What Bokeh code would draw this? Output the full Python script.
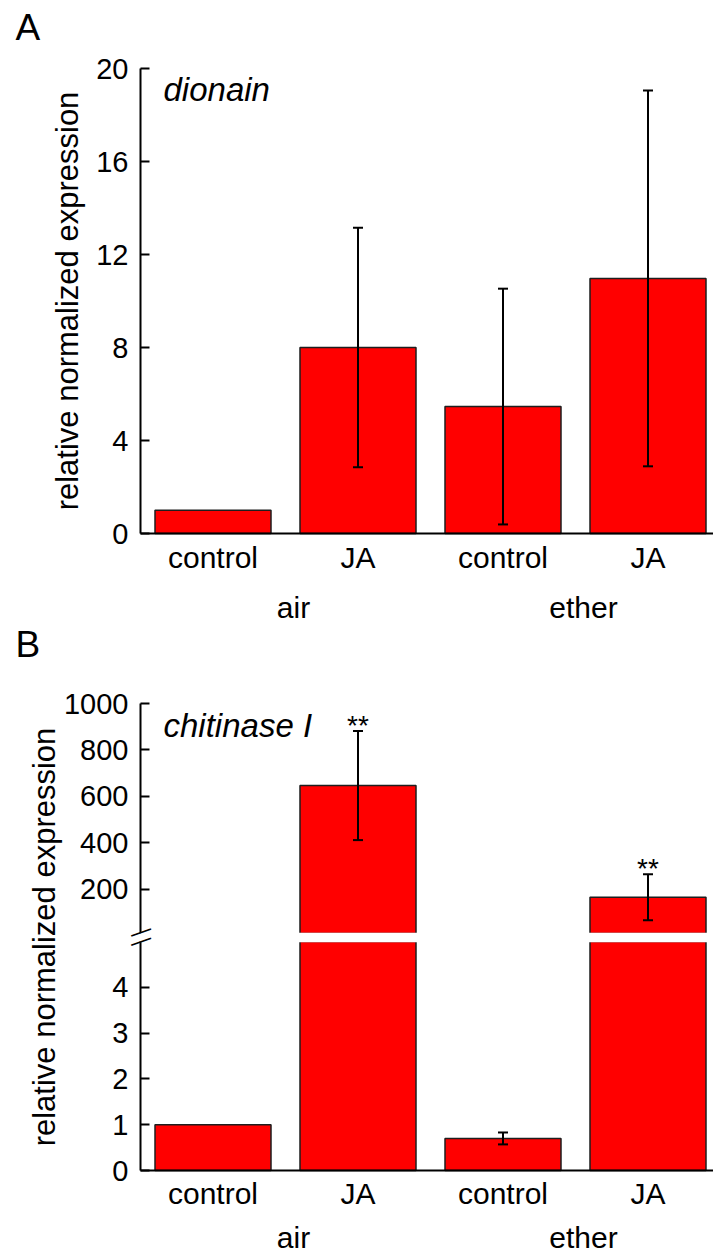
import numpy as np
from bokeh.plotting import figure
from bokeh.models import (Range1d, LinearAxis, FixedTicker, ColumnDataSource,
                          Whisker, TeeHead, Label, BoxAnnotation)
from bokeh.layouts import column
from bokeh.embed import file_html
from bokeh.resources import INLINE
from bokeh.core.properties import value

# ---------------- data ----------------
treatments = ["control", "JA", "control", "JA"]
atmospheres = ["air", "air", "ether", "ether"]
groups = ["air", "ether"]

dionain_mean = [1.0, 8.0, 5.46, 10.97]
dionain_err = [0.0, 5.15, 5.07, 8.08]

chitinase_mean = [1.0, 647.0, 0.70, 166.0]
chitinase_err = [0.0, 235.0, 0.13, 99.0]
chitinase_sig = ["", "**", "", "**"]

a_yticks = [0, 4, 8, 12, 16, 20]
b_lower_ticks = [0, 1, 2, 3, 4]
b_upper_ticks = [200, 400, 600, 800, 1000]

ylabel = "relative normalized expression"

# ---------------- style / layout constants ----------------
FONT = "Liberation Sans"
RED = "#ff0000"
EDGE = "#1e1e1e"
W = 713
HA = 624
HB = 630
X0_PX = 140          # pixel position of the value axis
STEP = 145.0         # pixel step between bars
BAR_W = 0.8
BSHIFT = 11          # text baseline correction (px)
GROUP_SHIFT_PX = 8   # group labels sit slightly right of the pair centre

A_MAX = 20
A_TOP_PX, A_ZERO_PX = 68, 533

LOWER_MAX = 5.0
UPPER_MIN = 10.0
UPPER_MAX = 1000.0
B_UP_TOP, B_UP_BOT = 703 - HA, 933 - HA
B_LO_TOP, B_ZERO = 941 - HA, 1170 - HA
GAP_PX = B_LO_TOP - B_UP_BOT

xpos = np.arange(len(treatments)) + 0.5
group_pos = [float(np.mean([x for x, a in zip(xpos, atmospheres) if a == g])) + GROUP_SHIFT_PX / STEP
             for g in groups]


def x_range():
    return Range1d(-X0_PX / STEP, (W - X0_PX) / STEP)


def base_fig(height, yr):
    p = figure(width=W, height=height, x_range=x_range(), y_range=yr, title=None,
               output_backend="svg", toolbar_location=None,
               x_axis_location=None, y_axis_location=None,
               min_border_left=0, min_border_right=0,
               min_border_top=0, min_border_bottom=0)
    p.outline_line_color = None
    p.grid.visible = False
    p.background_fill_color = "white"
    p.border_fill_color = "white"
    return p


def style_label(ax, standoff):
    ax.axis_label_text_font = FONT
    ax.axis_label_text_font_size = "31px"
    ax.axis_label_text_font_style = "normal"
    ax.axis_label_text_color = "black"
    ax.axis_label_standoff = standoff


def make_yaxis(ticks, **kw):
    ax = LinearAxis(ticker=FixedTicker(ticks=ticks), fixed_location=0, **kw)
    ax.axis_line_width = 2
    ax.axis_line_color = "black"
    ax.major_tick_in = 9
    ax.major_tick_out = 0
    ax.major_tick_line_width = 2
    ax.major_tick_line_color = "black"
    ax.minor_tick_line_color = None
    ax.major_label_text_font = FONT
    ax.major_label_text_font_size = "29px"
    ax.major_label_text_color = "black"
    ax.major_label_standoff = 12
    style_label(ax, 8)
    return ax


def make_xaxes(p, sub_standoff, group_standoff):
    xend = (W - X0_PX) / STEP
    ax = LinearAxis(ticker=FixedTicker(ticks=list(xpos)), fixed_location=0,
                    bounds=(0, xend),
                    major_label_overrides={float(x): t for x, t in zip(xpos, treatments)})
    ax.axis_line_width = 2
    ax.axis_line_color = "black"
    ax.major_tick_in = 0
    ax.major_tick_out = 0
    ax.major_tick_line_color = None
    ax.minor_tick_line_color = None
    ax.major_label_text_font = FONT
    ax.major_label_text_font_size = "30px"
    ax.major_label_text_color = "black"
    ax.major_label_standoff = sub_standoff
    p.add_layout(ax, "below")

    gx = LinearAxis(ticker=FixedTicker(ticks=group_pos), fixed_location=0,
                    major_label_overrides={g_x: g for g_x, g in zip(group_pos, groups)})
    gx.axis_line_color = None
    gx.major_tick_in = 0
    gx.major_tick_out = 0
    gx.major_tick_line_color = None
    gx.minor_tick_line_color = None
    gx.major_label_text_font = FONT
    gx.major_label_text_font_size = "30px"
    gx.major_label_text_color = "black"
    gx.major_label_standoff = group_standoff
    p.add_layout(gx, "below")


def whiskers(p, xs, means, errs, **kw):
    src = ColumnDataSource(dict(
        x=[x for x, e in zip(xs, errs) if e > 0],
        lo=[m - e for m, e in zip(means, errs) if e > 0],
        hi=[m + e for m, e in zip(means, errs) if e > 0]))
    w = Whisker(base="x", lower="lo", upper="hi", source=src, level="annotation",
                line_width=2, line_color="black",
                upper_head=TeeHead(size=10, line_width=2, line_color="black"),
                lower_head=TeeHead(size=10, line_width=2, line_color="black"), **kw)
    p.add_layout(w)


def panel_letter(p, text, yr, baseline_px):
    p.add_layout(Label(x=p.x_range.start, y=yr.end, x_offset=15,
                       y_offset=-(baseline_px - BSHIFT), text=text,
                       text_font=FONT, text_font_size="37px", text_baseline="alphabetic",
                       text_color="black"))


def gene_label(p, text, y, baseline_px, **kw):
    p.add_layout(Label(x=0, y=y, x_offset=23, y_offset=-(baseline_px - BSHIFT), text=text,
                       text_font=FONT, text_font_size="33px", text_font_style="italic",
                       text_baseline="alphabetic", text_color="black", **kw))


# ---------------- panel A ----------------
kA = (A_ZERO_PX - A_TOP_PX) / A_MAX
yrA = Range1d(-(HA - A_ZERO_PX) / kA, A_MAX + A_TOP_PX / kA)
pA = base_fig(HA, yrA)
pA.add_layout(make_yaxis(a_yticks, axis_label=ylabel, bounds=(0, A_MAX)), "left")
make_xaxes(pA, 7, 57)

srcA = ColumnDataSource(dict(x=xpos, top=dionain_mean))
pA.vbar(x="x", top="top", bottom=0, width=BAR_W, source=srcA,
        fill_color=RED, line_color=EDGE, line_width=1.5)
whiskers(pA, xpos, dionain_mean, dionain_err)
gene_label(pA, "dionain", A_MAX, 32)
panel_letter(pA, "A", yrA, 38)

# ---------------- panel B (broken axis) ----------------
kL = (B_ZERO - B_LO_TOP) / LOWER_MAX
kU = (B_UP_BOT - B_UP_TOP) / (UPPER_MAX - UPPER_MIN)
yrB = Range1d(-(HB - B_ZERO) / kL, LOWER_MAX + B_LO_TOP / kL)
pB = base_fig(HB, yrB)
pB.extra_y_ranges = {"upper": Range1d(UPPER_MIN - (HB - B_UP_BOT) / kU,
                                      UPPER_MAX + B_UP_TOP / kU)}

pB.add_layout(make_yaxis(b_upper_ticks, y_range_name="upper",
                         bounds=(UPPER_MIN, UPPER_MAX)), "left")
pB.add_layout(make_yaxis(b_lower_ticks, bounds=(0, LOWER_MAX)), "left")
# label axis spanning the whole broken axis (lower segment bottom to upper segment top)
span_top = LOWER_MAX + (B_LO_TOP - B_UP_TOP) / kL
lab = LinearAxis(ticker=FixedTicker(ticks=[]), fixed_location=0,
                 bounds=(0, span_top), axis_label=ylabel)
lab.axis_line_color = None
lab.major_tick_line_color = None
lab.minor_tick_line_color = None
lab.major_label_standoff = 0
style_label(lab, 79)
pB.add_layout(lab, "left")
make_xaxes(pB, 6, 50)

cm = np.array(chitinase_mean)
srcBl = ColumnDataSource(dict(x=xpos, top=np.minimum(cm, LOWER_MAX)))
pB.vbar(x="x", top="top", bottom=0, width=BAR_W, source=srcBl,
        fill_color=RED, line_color=EDGE, line_width=1.5)
big = cm > LOWER_MAX
srcBu = ColumnDataSource(dict(x=xpos[big], top=cm[big]))
pB.vbar(x="x", top="top", bottom=UPPER_MIN, width=BAR_W, source=srcBu,
        y_range_name="upper", fill_color=RED, line_color=EDGE, line_width=1.5)

errs = np.array(chitinase_err)
whiskers(pB, xpos[~big], cm[~big], errs[~big])
whiskers(pB, xpos[big], cm[big], errs[big], y_range_name="upper")

sig_x = [x for x, s in zip(xpos, chitinase_sig) if s]
sig_y = [m + e for m, e, s in zip(chitinase_mean, chitinase_err, chitinase_sig) if s]
sig_t = [s for s in chitinase_sig if s]
pB.text(x=sig_x, y=sig_y, text=sig_t, y_range_name="upper", text_align="center",
        text_baseline="alphabetic", y_offset=-5.5, text_font=value(FONT),
        text_font_size="28px", text_color="black")

# white gap of the broken axis
pB.add_layout(BoxAnnotation(left=0, bottom=LOWER_MAX - 0.8 / kL,
                            top=LOWER_MAX + (GAP_PX + 0.8) / kL,
                            fill_color="white", fill_alpha=1.0, line_color=None))
# break marks on the axis
for off in (11.0, 1.9):
    pB.add_layout(Label(x=0, y=LOWER_MAX, y_offset=off, text="\u2014", angle=0.34,
                        text_align="center", text_baseline="middle",
                        text_font=FONT, text_font_size="21px", text_color="black"))

gene_label(pB, "chitinase I", UPPER_MAX, 33, y_range_name="upper")
panel_letter(pB, "B", yrB, 31)

layout = column(pA, pB)
open("out.html", "w").write(file_html(layout, INLINE))
